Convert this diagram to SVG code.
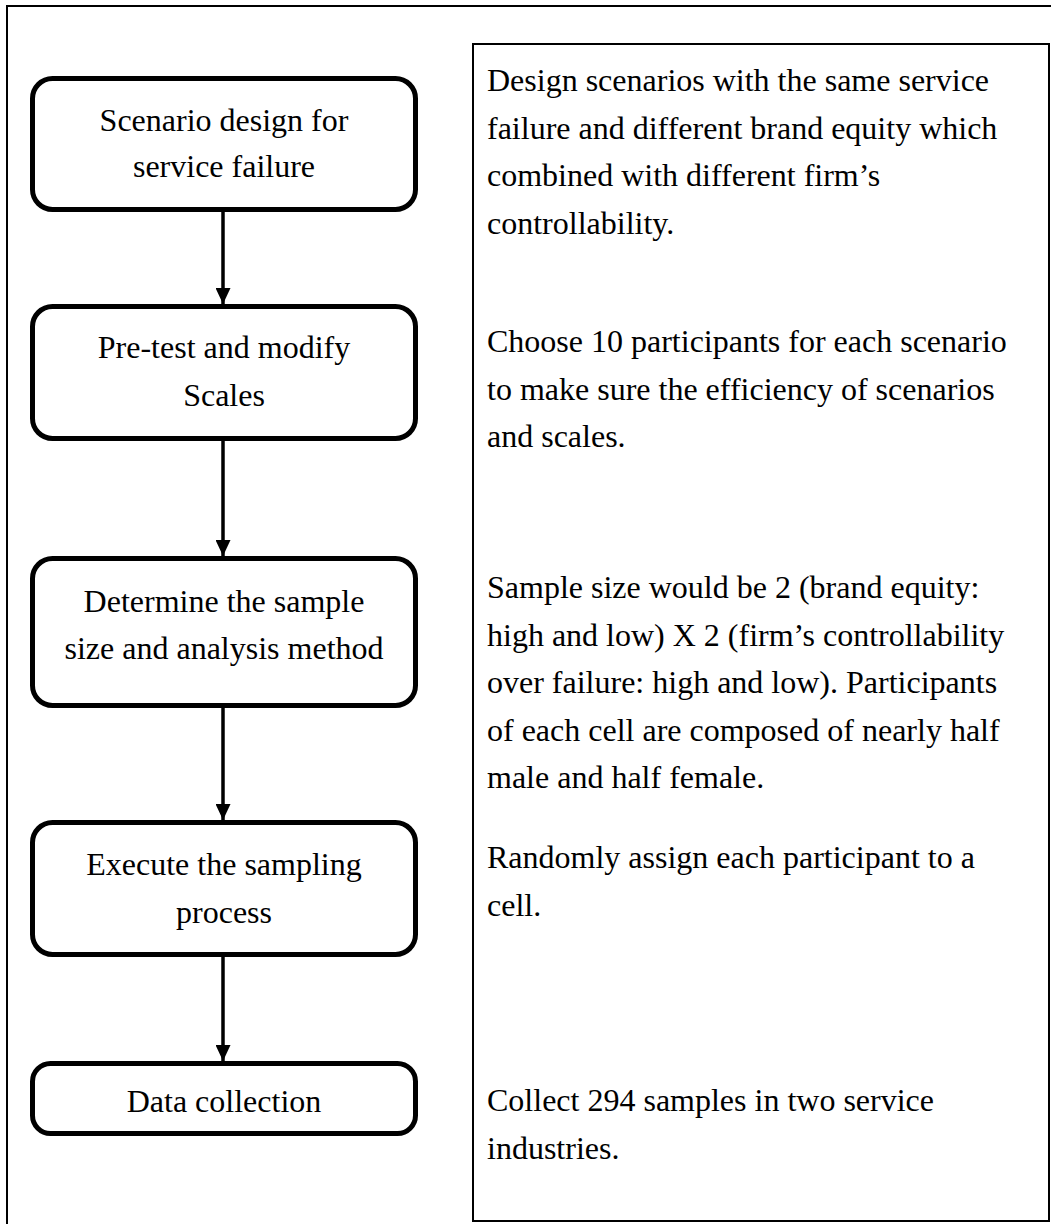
<svg xmlns="http://www.w3.org/2000/svg" width="1051" height="1224" viewBox="0 0 1051 1224">
  <defs>
    <style>
      .frame { fill: none; stroke: #000; stroke-width: 2; }
      .step { fill: #fff; stroke: #000; stroke-width: 5; }
      .label { font-family: 'Liberation Serif', 'Times New Roman', serif; font-size: 32px; fill: #000; }
      .mid { text-anchor: middle; }
      .link { stroke: #000; stroke-width: 3.5; fill: none; marker-end: url(#head); }
    </style>
    <marker id="head" viewBox="0 0 16 15" refX="16" refY="7.5" markerWidth="16" markerHeight="15" markerUnits="userSpaceOnUse" orient="auto">
      <path d="M0,0 L16,7.5 L0,15 Z" fill="#000"/>
    </marker>
  </defs>

  <rect width="1051" height="1224" fill="#fff"/>

  <!-- outer page frame (runs past the right and bottom edges) -->
  <rect class="frame" x="7" y="6" width="1070" height="1240"/>

  <!-- description panel -->
  <g id="notes">
    <rect class="frame" x="473" y="44" width="576" height="1177"/>
    <text class="label">
      <tspan x="487" y="91">Design scenarios with the same service</tspan>
      <tspan x="487" y="139">failure and different brand equity which</tspan>
      <tspan x="487" y="186">combined with different firm’s</tspan>
      <tspan x="487" y="234">controllability.</tspan>
    </text>
    <text class="label">
      <tspan x="487" y="352">Choose 10 participants for each scenario</tspan>
      <tspan x="487" y="400">to make sure the efficiency of scenarios</tspan>
      <tspan x="487" y="447">and scales.</tspan>
    </text>
    <text class="label">
      <tspan x="487" y="598">Sample size would be 2 (brand equity:</tspan>
      <tspan x="487" y="646">high and low) X 2 (firm’s controllability</tspan>
      <tspan x="487" y="693">over failure: high and low). Participants</tspan>
      <tspan x="487" y="741">of each cell are composed of nearly half</tspan>
      <tspan x="487" y="788">male and half female.</tspan>
    </text>
    <text class="label">
      <tspan x="487" y="868">Randomly assign each participant to a</tspan>
      <tspan x="487" y="916">cell.</tspan>
    </text>
    <text class="label">
      <tspan x="487" y="1111">Collect 294 samples in two service</tspan>
      <tspan x="487" y="1159">industries.</tspan>
    </text>
  </g>

  <!-- flow steps -->
  <g id="step1">
    <rect class="step" x="32.5" y="78.5" width="383" height="131" rx="20"/>
    <text class="label mid" x="224" y="131">Scenario design for</text>
    <text class="label mid" x="224" y="177">service failure</text>
  </g>
  <g id="step2">
    <rect class="step" x="32.5" y="306.5" width="383" height="132" rx="20"/>
    <text class="label mid" x="224" y="358">Pre-test and modify</text>
    <text class="label mid" x="224" y="406">Scales</text>
  </g>
  <g id="step3">
    <rect class="step" x="32.5" y="558.5" width="383" height="147" rx="20"/>
    <text class="label mid" x="224" y="612">Determine the sample</text>
    <text class="label mid" x="224" y="659">size and analysis method</text>
  </g>
  <g id="step4">
    <rect class="step" x="32.5" y="822.5" width="383" height="132" rx="20"/>
    <text class="label mid" x="224" y="875">Execute the sampling</text>
    <text class="label mid" x="224" y="923">process</text>
  </g>
  <g id="step5">
    <rect class="step" x="32.5" y="1063.5" width="383" height="70" rx="18"/>
    <text class="label mid" x="224" y="1112">Data collection</text>
  </g>

  <!-- connectors between steps -->
  <g id="connectors">
    <line class="link" x1="223" y1="212" x2="223" y2="304"/>
    <line class="link" x1="223" y1="441" x2="223" y2="556"/>
    <line class="link" x1="223" y1="708" x2="223" y2="820"/>
    <line class="link" x1="223" y1="957" x2="223" y2="1061"/>
  </g>
</svg>
